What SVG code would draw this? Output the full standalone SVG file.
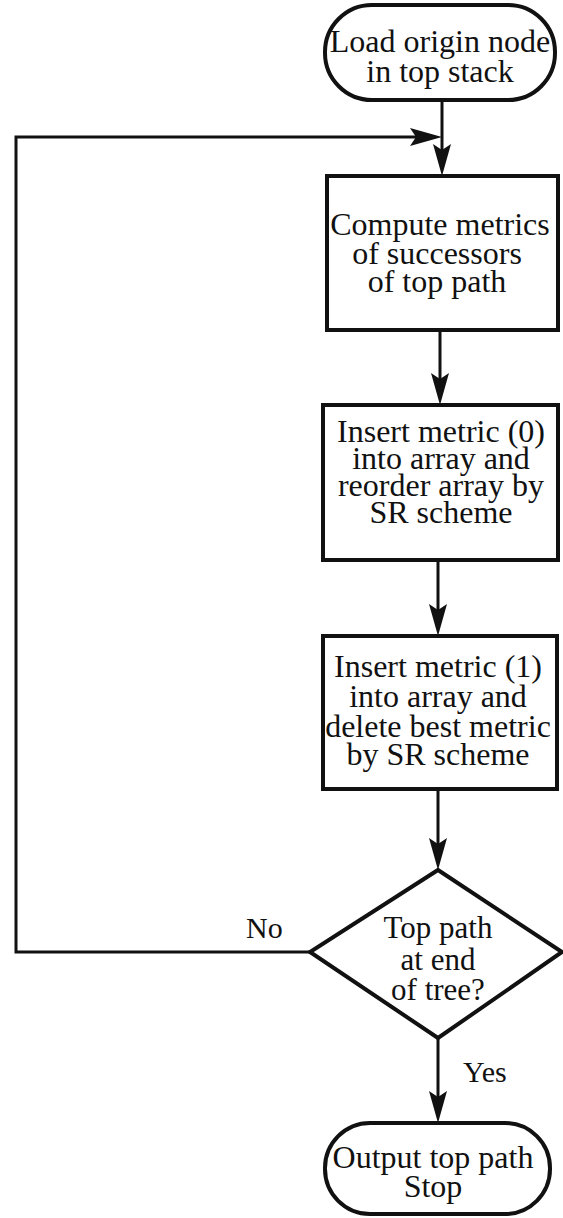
<svg xmlns="http://www.w3.org/2000/svg" width="563" height="1218" viewBox="0 0 563 1218">
  <style>
    .shape { fill: #fff; stroke: #111; stroke-width: 4; }
    .wire { fill: none; stroke: #111; stroke-width: 3; }
    .t { font-family: "Liberation Serif", "Times New Roman", serif; font-size: 32px; fill: #111; text-anchor: middle; }
    .d { font-size: 31px; }
    .lbl { font-family: "Liberation Serif", "Times New Roman", serif; font-size: 30px; fill: #111; }
  </style>
  <defs>
    <!-- dart-shaped arrowhead; the wire stops 8px short of the tip -->
    <marker id="ah" markerUnits="userSpaceOnUse" viewBox="0 0 34 20" markerWidth="34" markerHeight="20" refX="24" refY="10" orient="auto">
      <path d="M32,10 L0,1 L6,10 L0,19 Z" fill="#111"/>
    </marker>
  </defs>

  <rect width="563" height="1218" fill="#fff"/>

  <g id="connectors">
    <path class="wire" d="M442,100 V168" marker-end="url(#ah)"/>
    <path class="wire" d="M310,952 H16 V137 H434" marker-end="url(#ah)"/>
    <path class="wire" d="M440,330 V397" marker-end="url(#ah)"/>
    <path class="wire" d="M438,560 V628" marker-end="url(#ah)"/>
    <path class="wire" d="M438,789 V862" marker-end="url(#ah)"/>
    <path class="wire" d="M438,1038 V1115" marker-end="url(#ah)"/>
  </g>

  <g id="start">
    <rect class="shape" x="325" y="5" width="230" height="95" rx="47" ry="47"/>
    <text class="t" x="440" y="52">Load origin node</text>
    <text class="t" x="440" y="82">in top stack</text>
  </g>

  <g id="compute">
    <rect class="shape" x="327" y="176" width="231" height="154"/>
    <text class="t" x="440" y="235">Compute metrics</text>
    <text class="t" x="437" y="264">of successors</text>
    <text class="t" x="437" y="292">of top path</text>
  </g>

  <g id="insert0">
    <rect class="shape" x="323" y="405" width="235" height="155"/>
    <text class="t" x="441" y="442">Insert metric (0)</text>
    <text class="t" x="441" y="469">into array and</text>
    <text class="t" x="441" y="496">reorder array by</text>
    <text class="t" x="441" y="523">SR scheme</text>
  </g>

  <g id="insert1">
    <rect class="shape" x="323" y="636" width="234" height="153"/>
    <text class="t" x="438" y="677">Insert metric (1)</text>
    <text class="t" x="438" y="707">into array and</text>
    <text class="t" x="438" y="737">delete best metric</text>
    <text class="t" x="438" y="765">by SR scheme</text>
  </g>

  <g id="decision">
    <polygon class="shape" points="438,870 562,952 438,1038 310,952"/>
    <text class="t d" x="438" y="938">Top path</text>
    <text class="t d" x="438" y="970">at end</text>
    <text class="t d" x="438" y="1000">of tree?</text>
  </g>

  <g id="labels">
    <text class="lbl" x="246" y="938">No</text>
    <text class="lbl" x="463" y="1082">Yes</text>
  </g>

  <g id="end">
    <rect class="shape" x="325" y="1123" width="225" height="91" rx="45" ry="45"/>
    <text class="t" x="433" y="1168">Output top path</text>
    <text class="t" x="433" y="1197">Stop</text>
  </g>
</svg>
